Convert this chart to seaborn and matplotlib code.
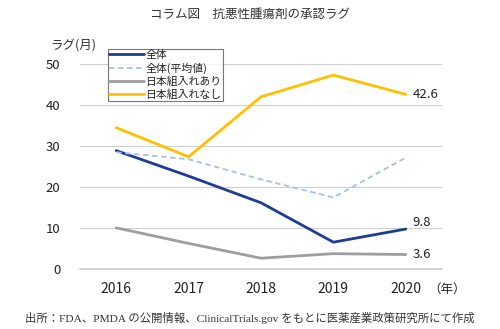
import matplotlib
matplotlib.use("Agg")
import matplotlib.pyplot as plt
import seaborn as sns
import pandas as pd
from matplotlib.lines import Line2D

years = [2016, 2017, 2018, 2019, 2020]
overall = [28.9, 22.7, 16.2, 6.6, 9.8]
overall_mean = [28.5, 26.8, 21.9, 17.5, 27.2]
with_japan = [10.1, 6.3, 2.7, 3.8, 3.6]
without_japan = [34.5, 27.4, 42.0, 47.3, 42.6]
labels = ["全体", "全体(平均値)", "日本組入れあり", "日本組入れなし"]
y_ticks = [0, 10, 20, 30, 40, 50]

sns.set_theme(style="white")
plt.rcParams['font.family'] = ['Noto Sans CJK JP', 'DejaVu Sans']

colors = ["#1F3C93", "#A9BEE2", "#9E9E9E", "#FFC000"]
widths = [2.0, 1.3, 2.0, 2.0]
styles = ["-", (0, (3, 2)), "-", "-"]
series = [overall, overall_mean, with_japan, without_japan]

fig = plt.figure(figsize=(5.0, 3.29), dpi=100)
ax = fig.add_axes([0.16, 0.1815, 0.724, 0.624])

for lab, vals, c, w, ls in zip(labels, series, colors, widths, styles):
    df = pd.DataFrame({"year": years, "value": vals})
    sns.lineplot(data=df, x="year", y="value", ax=ax, color=c, linewidth=w,
                 linestyle=ls, legend=False)

ax.set_xlim(2015.5, 2020.5)
ax.set_ylim(0, 50)
ax.set_yticks(y_ticks)
ax.set_xticks(years)
ax.set_xticklabels([str(y) for y in years])
ax.grid(axis="y", color="#D0D0D0", linewidth=0.8)
ax.set_axisbelow(True)
for s in ["top", "right", "left"]:
    ax.spines[s].set_visible(False)
ax.spines["bottom"].set_color("#D0D0D0")
ax.tick_params(axis="both", length=0, colors="#222222")
ax.tick_params(axis="x", pad=9, labelsize=10)
ax.tick_params(axis="y", pad=14, labelsize=9.5)
ax.set_xlabel("")
ax.set_ylabel("")

# end labels
ax.annotate(f"{without_japan[-1]}", xy=(years[-1], without_japan[-1]), xytext=(5, 0),
            textcoords="offset points", va="center", ha="left", fontsize=9.5, color="#222222")
ax.annotate(f"{overall[-1]}", xy=(years[-1], overall[-1]), xytext=(5, 0),
            textcoords="offset points", va="bottom", ha="left", fontsize=9.5, color="#222222")
ax.annotate(f"{with_japan[-1]}", xy=(years[-1], with_japan[-1]), xytext=(5, 0),
            textcoords="offset points", va="center", ha="left", fontsize=9.5, color="#222222")

handles = [Line2D([0], [0], color=c, linewidth=w, linestyle=ls)
           for c, w, ls in zip(colors, widths, styles)]
leg = ax.legend(handles, labels, loc="upper left", bbox_to_anchor=(0.077, 1.075),
                fontsize=7.8, handlelength=3.2, handletextpad=0.1, labelspacing=0.22,
                borderpad=0.15, borderaxespad=0, frameon=True, fancybox=False)
leg.get_frame().set_edgecolor("#555555")
leg.get_frame().set_linewidth(0.8)
for t in leg.get_texts():
    t.set_color("#222222")

fig.text(0.5, 0.955, "コラム図　抗悪性腫瘍剤の承認ラグ", ha="center", va="center",
         fontsize=9, color="#333333")
fig.text(0.1, 0.862, "ラグ(月)", ha="left", va="center", fontsize=9, color="#333333")
fig.text(0.856, 0.12, "（年）", ha="left", va="center", fontsize=9, color="#222222")
fig.text(0.5, 0.033, "出所：FDA、PMDA の公開情報、ClinicalTrials.gov をもとに医薬産業政策研究所にて作成",
         ha="center", va="center", fontsize=8.2, color="#333333",
         family=['Liberation Serif', 'Noto Sans CJK JP'])

fig.savefig("out.png", dpi=100)
